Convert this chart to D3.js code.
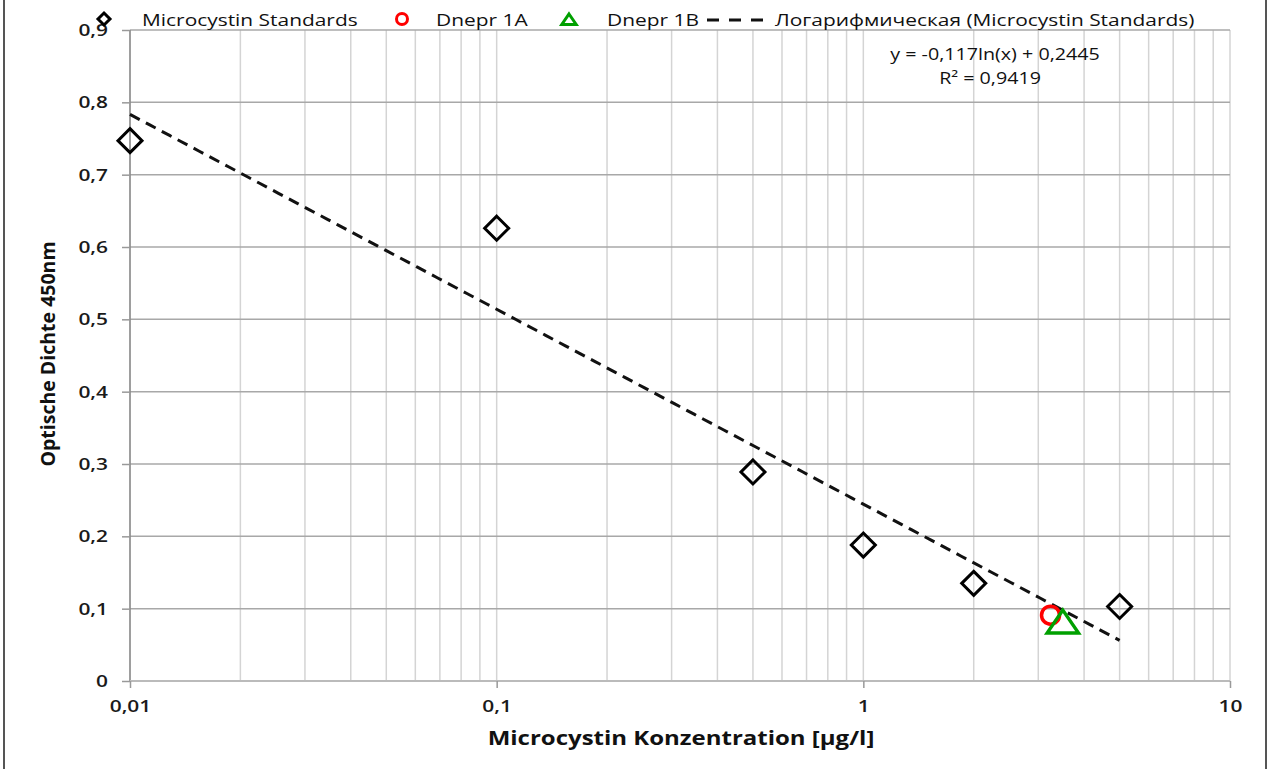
<!DOCTYPE html>
<html><head><meta charset="utf-8">
<script src="https://cdn.jsdelivr.net/npm/d3@7"></script>
<style>
html,body{margin:0;padding:0;background:#fff;}
svg{display:block;font-family:"Open Sans",sans-serif;}
</style></head>
<body>
<svg id="c" width="1268" height="769"></svg>
<script>
// Data
const stdX = [0.01, 0.1, 0.5, 1, 2, 5];
const stdY = [0.747, 0.626, 0.289, 0.188, 0.135, 0.103];
const dneprAX = [3.24];
const dneprAY = [0.091];
const dneprBX = [3.5];
const dneprBY = [0.08];
const trendA = -0.117, trendB = 0.2445;
const trendRange = [0.01, 5];
const yTicks = [0, 0.1, 0.2, 0.3, 0.4, 0.5, 0.6, 0.7, 0.8, 0.9];
const xMajor = [0.01, 0.1, 1, 10];
const xTickLabels = ["0,01", "0,1", "1", "10"];
const legendLabels = ["Microcystin Standards", "Dnepr 1A", "Dnepr 1B", "Логарифмическая (Microcystin Standards)"];
const eqLines = ["y = -0,117ln(x) + 0,2445", "R² = 0,9419"];
const xTitle = "Microcystin Konzentration [µg/l]";
const yTitle = "Optische Dichte 450nm";

const SX = 1.23; // horizontal stretch of the text in the reference
const svg = d3.select("#c");
const x = d3.scaleLog().domain([0.01, 10]).range([130, 1230]);
const y = d3.scaleLinear().domain([0, 0.9]).range([681, 30]);

function stext(g, tx, ty, str, size, weight, anchor, sx) {
  return g.append("text").attr("transform", `translate(${tx},${ty}) scale(${sx || SX},1)`)
    .attr("font-size", size).attr("font-weight", weight || 400)
    .attr("text-anchor", anchor || "start").attr("fill", "#111").text(str);
}

// outer borders
svg.append("line").attr("x1",4).attr("x2",4).attr("y1",0).attr("y2",769).attr("stroke","#555").attr("stroke-width",2);
svg.append("line").attr("x1",1266).attr("x2",1266).attr("y1",0).attr("y2",769).attr("stroke","#555").attr("stroke-width",2);

// minor grid (vertical)
const minor = [];
for (let e = -2; e < 1; e++) for (let k = 1; k <= 9; k++) minor.push(k * Math.pow(10, e));
minor.push(10);
svg.append("g").selectAll("line").data(minor).join("line")
  .attr("x1", d => x(d)).attr("x2", d => x(d)).attr("y1", y(0.9)).attr("y2", y(0))
  .attr("stroke", "#d4d4d4").attr("stroke-width", 1.5);
// horizontal grid
svg.append("g").selectAll("line").data(yTicks).join("line")
  .attr("x1", x(0.01)).attr("x2", x(10)).attr("y1", d => y(d)).attr("y2", d => y(d))
  .attr("stroke", "#a8a8a8").attr("stroke-width", 1.5);

// axis lines
svg.append("line").attr("x1", x(0.01)).attr("x2", x(0.01)).attr("y1", y(0.9)).attr("y2", y(0)).attr("stroke","#888").attr("stroke-width",1.5);
svg.append("line").attr("x1", x(0.01)).attr("x2", x(10)).attr("y1", y(0)).attr("y2", y(0)).attr("stroke","#bbb").attr("stroke-width",2);

// y axis ticks + labels
const ya = d3.axisLeft(y).tickValues(yTicks).tickSize(8).tickFormat(d => d === 0 ? "0" : d3.format(".1f")(d).replace(".", ","));
const gy = svg.append("g").attr("transform", `translate(${x(0.01)},0)`).call(ya);
gy.select(".domain").remove();
gy.selectAll(".tick line").attr("stroke", "#999").attr("stroke-width", 1.5);
gy.selectAll(".tick text").attr("x", -22 / SX).attr("transform", `scale(${SX},1)`)
  .attr("font-size", 17).attr("font-weight", 600).attr("fill", "#1a1a1a").attr("font-family", "Open Sans");

// x axis ticks + labels
const xa = d3.axisBottom(x).tickValues(xMajor).tickSize(7).tickFormat((d, i) => xTickLabels[i]);
const gx = svg.append("g").attr("transform", `translate(0,${y(0)})`).call(xa);
gx.select(".domain").remove();
gx.selectAll(".tick line").attr("stroke", "#999").attr("stroke-width", 1.5);
gx.selectAll(".tick text").attr("y", 19).attr("transform", `scale(${SX},1)`)
  .attr("font-size", 17).attr("font-weight", 600).attr("fill", "#1a1a1a").attr("font-family", "Open Sans");

// trendline
const tPts = d3.range(0, 101).map(i => {
  const lx = Math.log10(trendRange[0]) + (Math.log10(trendRange[1]) - Math.log10(trendRange[0])) * i / 100;
  const xv = Math.pow(10, lx);
  return [xv, trendA * Math.log(xv) + trendB];
});
svg.append("path").attr("d", d3.line().x(d => x(d[0])).y(d => y(d[1]))(tPts))
  .attr("fill", "none").attr("stroke", "#111").attr("stroke-width", 3).attr("stroke-dasharray", "11,7");

// markers
const diamond = (s) => `M0,${-s}L${s},0L0,${s}L${-s},0Z`;
svg.append("g").selectAll("path").data(stdX.map((d, i) => [d, stdY[i]])).join("path")
  .attr("d", diamond(12)).attr("transform", d => `translate(${x(d[0])},${y(d[1])})`)
  .attr("fill", "none").attr("stroke", "#000").attr("stroke-width", 3);
svg.append("g").selectAll("circle").data(dneprAX.map((d, i) => [d, dneprAY[i]])).join("circle")
  .attr("cx", d => x(d[0])).attr("cy", d => y(d[1])).attr("r", 9)
  .attr("fill", "none").attr("stroke", "#ff0000").attr("stroke-width", 3.5);
const tri = (s) => `M0,${-s}L${s*1.2},${s*0.75}L${-s*1.2},${s*0.75}Z`;
svg.append("g").selectAll("path").data(dneprBX.map((d, i) => [d, dneprBY[i]])).join("path")
  .attr("d", tri(13)).attr("transform", d => `translate(${x(d[0])},${y(d[1])})`)
  .attr("fill", "none").attr("stroke", "#00a000").attr("stroke-width", 3.5);

// legend
const lg = svg.append("g");
const ly = 19;
lg.append("path").attr("d", diamond(6)).attr("transform", `translate(104,${ly})`).attr("fill","none").attr("stroke","#000").attr("stroke-width",3);
stext(lg, 142, ly + 7, legendLabels[0], 17, 400);
lg.append("circle").attr("cx", 402).attr("cy", ly).attr("r", 5.5).attr("fill","none").attr("stroke","#ff0000").attr("stroke-width",3);
stext(lg, 436, ly + 7, legendLabels[1], 17, 400);
lg.append("path").attr("d", tri(6)).attr("transform", `translate(569,${ly+1})`).attr("fill","none").attr("stroke","#00a000").attr("stroke-width",3);
stext(lg, 607, ly + 7, legendLabels[2], 17, 400);
lg.append("line").attr("x1", 707).attr("x2", 770).attr("y1", ly + 1).attr("y2", ly + 1).attr("stroke","#111").attr("stroke-width",3).attr("stroke-dasharray","12,10");
stext(lg, 775, ly + 7, legendLabels[3], 17, 400);

// equation
stext(svg, 995, 60, eqLines[0], 16, 400, "middle");
stext(svg, 990, 84, eqLines[1], 16, 400, "middle");

// axis titles
stext(svg, 681, 745, xTitle, 20, 700, "middle", 1.2);
svg.append("text").attr("transform", "translate(55,354) rotate(-90)").attr("text-anchor", "middle")
  .attr("font-size", 19.5).attr("font-weight", 700).attr("fill", "#111").text(yTitle);
</script>
</body></html>
